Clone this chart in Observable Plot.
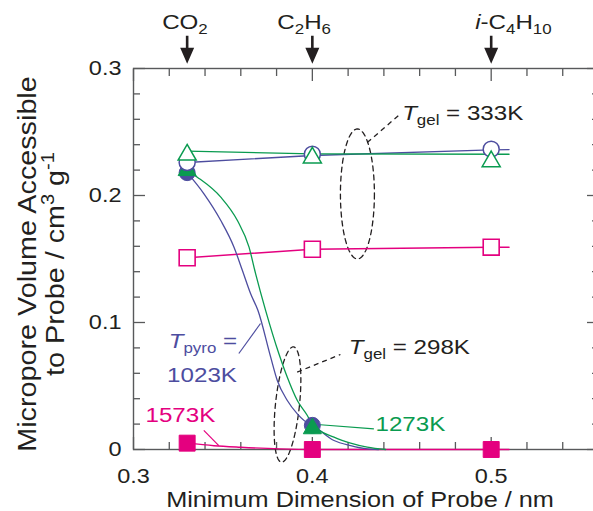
<!DOCTYPE html>
<html>
<head>
<meta charset="utf-8">
<script src="https://cdn.jsdelivr.net/npm/d3@7"></script>
<script src="https://cdn.jsdelivr.net/npm/@observablehq/plot@0.6"></script>
<style>
  html, body { margin: 0; padding: 0; background: #fff; overflow: hidden; }
</style>
</head>
<body>
<div id="chart"></div>
<script>
// Probe molecules and their minimum dimension (nm)
const probeSize = [0.33, 0.4, 0.5];
const probeName = ["CO_{2}", "C_{2}H_{6}", "*i*-C_{4}H_{10}"];

// Axis ticks
const xTicks = [0.3, 0.4, 0.5];
const xMinorTicks = [0.32, 0.34, 0.36, 0.38, 0.42, 0.44, 0.46, 0.48, 0.52, 0.54];
const yTicks = [0, 0.1, 0.2, 0.3];
const yMinorTicks = [0.02, 0.04, 0.06, 0.08, 0.12, 0.14, 0.16, 0.18, 0.22, 0.24, 0.26, 0.28];

// Micropore volume accessible to each probe (cm3 g-1), gel prepared at 333 K
const vol333_1023 = [0.226, 0.2325, 0.2365];
const vol333_1273 = [0.232, 0.2297, 0.2268];
const vol333_1573 = [0.151, 0.1577, 0.1593];
// gel prepared at 298 K
const vol298_1023 = [0.218, 0.019];
const vol298_1273 = [0.2198, 0.0165];
const vol298_1573 = [0.005, 0, 0];

// Guide curves drawn through the data
const guide333_1023_x = [0.33, 0.4, 0.5, 0.51];
const guide333_1023_y = [0.226, 0.2315, 0.236, 0.2362];
const guide333_1273_x = [0.33, 0.4, 0.51];
const guide333_1273_y = [0.2349, 0.2328, 0.2325];
const guide333_1573_x = [0.33, 0.4, 0.5, 0.51];
const guide333_1573_y = [0.151, 0.1577, 0.1593, 0.1593];

const guide298_1023_x = [0.33, 0.3394, 0.3488, 0.3562, 0.3609, 0.3655, 0.3696, 0.3767, 0.3804, 0.386, 0.3916, 0.3981, 0.4, 0.4121, 0.4214, 0.4307, 0.437];
const guide298_1023_y = [0.218, 0.2013, 0.1803, 0.1593, 0.1409, 0.1226, 0.1094, 0.0727, 0.0543, 0.0386, 0.0281, 0.0202, 0.019, 0.0071, 0.0031, 0.0005, 0];
const guide298_1273_x = [0.33, 0.3357, 0.3488, 0.3581, 0.3646, 0.3683, 0.3739, 0.3813, 0.386, 0.3916, 0.3972, 0.4, 0.4121, 0.4214, 0.4307, 0.441];
const guide298_1273_y = [0.2198, 0.2144, 0.1987, 0.1803, 0.1593, 0.1383, 0.1094, 0.0754, 0.0569, 0.0386, 0.0268, 0.0195, 0.0097, 0.005, 0.0018, 0];
const guide298_1573_x = [0.33, 0.345, 0.36, 0.382, 0.4, 0.51];
const guide298_1573_y = [0.005, 0.003, 0.0018, 0.0005, 0, 0];

// Colours
const blue = "#4d4d9f";
const green = "#0a9b50";
const pink = "#e4007f";
const ink = "#231f20";
const axisGray = "#58595b";

// Layout
const W = 593, H = 511;
const margin = {top: 68, right: -5, bottom: 62, left: 133};
const xDomain = [0.3, 0.56], yDomain = [0, 0.3];
const pxPerX = (W - margin.left - margin.right) / (xDomain[1] - xDomain[0]);
const pxPerY = (H - margin.top - margin.bottom) / (yDomain[1] - yDomain[0]);

const pts = (xs, ys) => ys.map((y, i) => ({x: xs[i], y}));

// Dashed ellipse grouping a set of points; radii and tilt given in pixels/degrees
function ellipse(cx, cy, rx, ry, tilt) {
  const th = tilt * Math.PI / 180;
  return d3.range(0, 361, 5).map(deg => {
    const t = deg * Math.PI / 180;
    const lx = rx * Math.cos(t), ly = ry * Math.sin(t);
    const sx = lx * Math.cos(th) - ly * Math.sin(th);
    const sy = lx * Math.sin(th) + ly * Math.cos(th);
    return {x: cx + sx / pxPerX, y: cy - sy / pxPerY};
  });
}

// Down-pointing arrow with its tip at the anchor point
const probeArrow = {
  draw(context) {
    context.moveTo(-1.3, -28);
    context.lineTo(1.3, -28);
    context.lineTo(1.3, -16);
    context.lineTo(7, -16);
    context.lineTo(0, 0);
    context.lineTo(-7, -16);
    context.lineTo(-1.3, -16);
    context.closePath();
  }
};

const dashed = {stroke: ink, strokeWidth: 1.3, strokeDasharray: "5,4"};

const labels = [
  {x: 0.4502, y: 0.265, text: "*T*_{gel} = 333K", color: ink},
  {x: 0.4204, y: 0.0806, text: "*T*_{gel} = 298K", color: ink},
  {x: 0.3197, y: 0.0853, text: "*T*_{pyro} =", color: blue},
  {x: 0.3188, y: 0.0588, text: "1023K", color: blue},
  {x: 0.4353, y: 0.0197, text: "1273K", color: green},
  {x: 0.3067, y: 0.0268, text: "1573K", color: pink}
];

const leaders = [
  {x1: 0.4307, y1: 0.2417, x2: 0.4482, y2: 0.263, color: ink, dash: true},
  {x1: 0.3915, y1: 0.0609, x2: 0.4157, y2: 0.0748, color: ink, dash: true},
  {x1: 0.3589, y1: 0.0756, x2: 0.371, y2: 0.0992, color: blue},
  {x1: 0.4027, y1: 0.0197, x2: 0.4344, y2: 0.0163, color: green},
  {x1: 0.3393, y1: 0.015, x2: 0.3477, y2: 0.0031, color: pink}
];

const axisStyle = {stroke: axisGray, fill: ink, strokeWidth: 1.3, label: null, fontSize: 21};
const blank = () => "";
const fmt = d => String(d);

const chart = Plot.plot({
  width: W,
  height: H,
  marginTop: margin.top,
  marginRight: margin.right,
  marginBottom: margin.bottom,
  marginLeft: margin.left,
  style: {fontFamily: "'Liberation Sans', Arial, sans-serif", fontSize: "21px", color: ink, background: "#fff"},
  x: {domain: xDomain, axis: null, label: null},
  y: {domain: yDomain, axis: null, label: null},
  marks: [
    Plot.frame({stroke: axisGray, strokeWidth: 1.4}),
    // bottom and left axes with labels, ticks pointing inward
    Plot.axisX(xTicks, {...axisStyle, anchor: "bottom", tickSize: -12, tickPadding: 31, tickFormat: fmt}),
    Plot.axisX(xMinorTicks, {...axisStyle, anchor: "bottom", tickSize: -7, tickFormat: blank}),
    Plot.axisY(yTicks, {...axisStyle, anchor: "left", tickSize: -12, tickPadding: 24, tickFormat: fmt}),
    Plot.axisY(yMinorTicks, {...axisStyle, anchor: "left", tickSize: -7, tickFormat: blank}),
    // top and right axes, ticks only
    Plot.axisX(xTicks, {...axisStyle, anchor: "top", tickSize: -12, tickFormat: blank}),
    Plot.axisX(xMinorTicks, {...axisStyle, anchor: "top", tickSize: -7, tickFormat: blank}),
    Plot.axisY(yTicks, {...axisStyle, anchor: "right", tickSize: -12, tickFormat: blank}),
    Plot.axisY(yMinorTicks, {...axisStyle, anchor: "right", tickSize: -7, tickFormat: blank}),

    // grouping ellipses and their leaders
    Plot.line(ellipse(0.4252, 0.2012, 17, 65, 0), {x: "x", y: "y", ...dashed}),
    Plot.line(ellipse(0.3861, 0.0354, 12, 58, 6), {x: "x", y: "y", ...dashed}),
    Plot.link(leaders.filter(d => d.dash), {x1: "x1", y1: "y1", x2: "x2", y2: "y2", ...dashed}),
    Plot.link(leaders.filter(d => !d.dash), {x1: "x1", y1: "y1", x2: "x2", y2: "y2", stroke: d => d.color, strokeWidth: 1.2}),

    // guide curves
    Plot.line(pts(guide333_1573_x, guide333_1573_y), {x: "x", y: "y", stroke: pink, strokeWidth: 1.4}),
    Plot.line(pts(guide333_1023_x, guide333_1023_y), {x: "x", y: "y", stroke: blue, strokeWidth: 1.3}),
    Plot.line(pts(guide333_1273_x, guide333_1273_y), {x: "x", y: "y", stroke: green, strokeWidth: 1.3}),
    Plot.line(pts(guide298_1573_x, guide298_1573_y), {x: "x", y: "y", stroke: pink, strokeWidth: 1.4, curve: "monotone-x"}),
    Plot.line(pts(guide298_1023_x, guide298_1023_y), {x: "x", y: "y", stroke: blue, strokeWidth: 1.3, curve: "monotone-x"}),
    Plot.line(pts(guide298_1273_x, guide298_1273_y), {x: "x", y: "y", stroke: green, strokeWidth: 1.3, curve: "monotone-x"}),

    // filled markers: gel at 298 K
    Plot.dot(pts(probeSize, vol298_1573), {x: "x", y: "y", symbol: "square", r: 9, fill: pink, stroke: pink, strokeWidth: 1}),
    Plot.dot(pts(probeSize, vol298_1023), {x: "x", y: "y", symbol: "circle", r: 8, fill: blue, stroke: blue, strokeWidth: 1}),
    Plot.dot(pts(probeSize, vol298_1273), {x: "x", y: "y", symbol: "triangle", r: 6.7, fill: green, stroke: green, strokeWidth: 1}),
    // open markers: gel at 333 K
    Plot.dot(pts(probeSize, vol333_1573), {x: "x", y: "y", symbol: "square", r: 9, fill: "#fff", stroke: pink, strokeWidth: 1.6}),
    Plot.dot(pts(probeSize, vol333_1023), {x: "x", y: "y", symbol: "circle", r: 8, fill: "#fff", stroke: blue, strokeWidth: 1.5}),
    Plot.dot(pts(probeSize, vol333_1273), {x: "x", y: "y", symbol: "triangle", r: 6.7, fill: "#fff", stroke: green, strokeWidth: 1.5}),

    // annotations
    Plot.text(labels, {x: "x", y: "y", text: "text", fill: d => d.color, textAnchor: "start", fontSize: 21}),

    // probe molecules above the frame
    Plot.dot(probeSize, {x: d => d, frameAnchor: "top", dy: -4.7, symbol: probeArrow, fill: ink, stroke: "none"}),
    ...probeName.map((name, i) => Plot.text([probeSize[i]], {
      x: d => d, text: () => name, frameAnchor: "top", dy: -46, dx: [-25, -35, -16][i],
      textAnchor: "start", lineAnchor: "middle", fontSize: 21, fill: ink
    })),

    // axis titles
    Plot.text(["Minimum Dimension of Probe / nm"], {
      text: d => d, frameAnchor: "bottom", dy: 50, dx: -6, textAnchor: "middle", lineAnchor: "middle",
      fontSize: 22, fill: ink, ariaLabel: "x title"
    }),
    Plot.text(["Micropore Volume Accessible"], {
      text: d => d, frameAnchor: "left", rotate: -90, dx: -106, dy: 5, textAnchor: "middle", lineAnchor: "middle",
      fontSize: 25, fill: ink, ariaLabel: "y title"
    }),
    Plot.text(["to Probe / cm^{3} g^{-1}"], {
      text: d => d, frameAnchor: "left", rotate: -90, dx: -78, dy: 5, textAnchor: "middle", lineAnchor: "middle",
      fontSize: 25, fill: ink, ariaLabel: "y title"
    })
  ]
});

document.getElementById("chart").appendChild(chart);

// Turn *italic*, _{sub} and ^{sup} markup into tspans
const SVGNS = "http://www.w3.org/2000/svg";
function setRichText(el) {
  const raw = el.textContent;
  if (!/[*_^]/.test(raw)) return;
  const size = parseFloat(getComputedStyle(el).fontSize);
  while (el.firstChild) el.removeChild(el.firstChild);
  let offset = 0;
  const re = /\*([^*]*)\*|_\{([^}]*)\}|\^\{([^}]*)\}|([^*_^]+)/g;
  for (const m of raw.matchAll(re)) {
    const t = document.createElementNS(SVGNS, "tspan");
    let shift = 0, small = false;
    if (m[1] !== undefined) { t.textContent = m[1]; t.setAttribute("font-style", "italic"); }
    else if (m[2] !== undefined) { t.textContent = m[2]; shift = 0.24 * size; small = true; }
    else if (m[3] !== undefined) { t.textContent = m[3]; shift = -0.4 * size; small = true; }
    else t.textContent = m[4];
    if (small) t.setAttribute("font-size", (0.7 * size).toFixed(1));
    const dy = shift - offset;
    if (dy) t.setAttribute("dy", dy.toFixed(2));
    offset = shift;
    el.appendChild(t);
  }
}
chart.querySelectorAll("text").forEach(setRichText);

// The lettering is set slightly wide: scale each label along its own baseline
const widen = {"x title": 1.23, "y title": 1.0, "x-axis tick label": 1.12, "y-axis tick label": 1.12};
chart.querySelectorAll("text").forEach(el => {
  if (!el.textContent.trim()) return;
  const g = el.closest("g[aria-label]");
  const k = widen[g ? g.getAttribute("aria-label") : ""] ?? 1.15;
  const tr = el.getAttribute("transform");
  if (tr && k !== 1) el.setAttribute("transform", `${tr} scale(${k},1)`);
});
</script>
</body>
</html>
